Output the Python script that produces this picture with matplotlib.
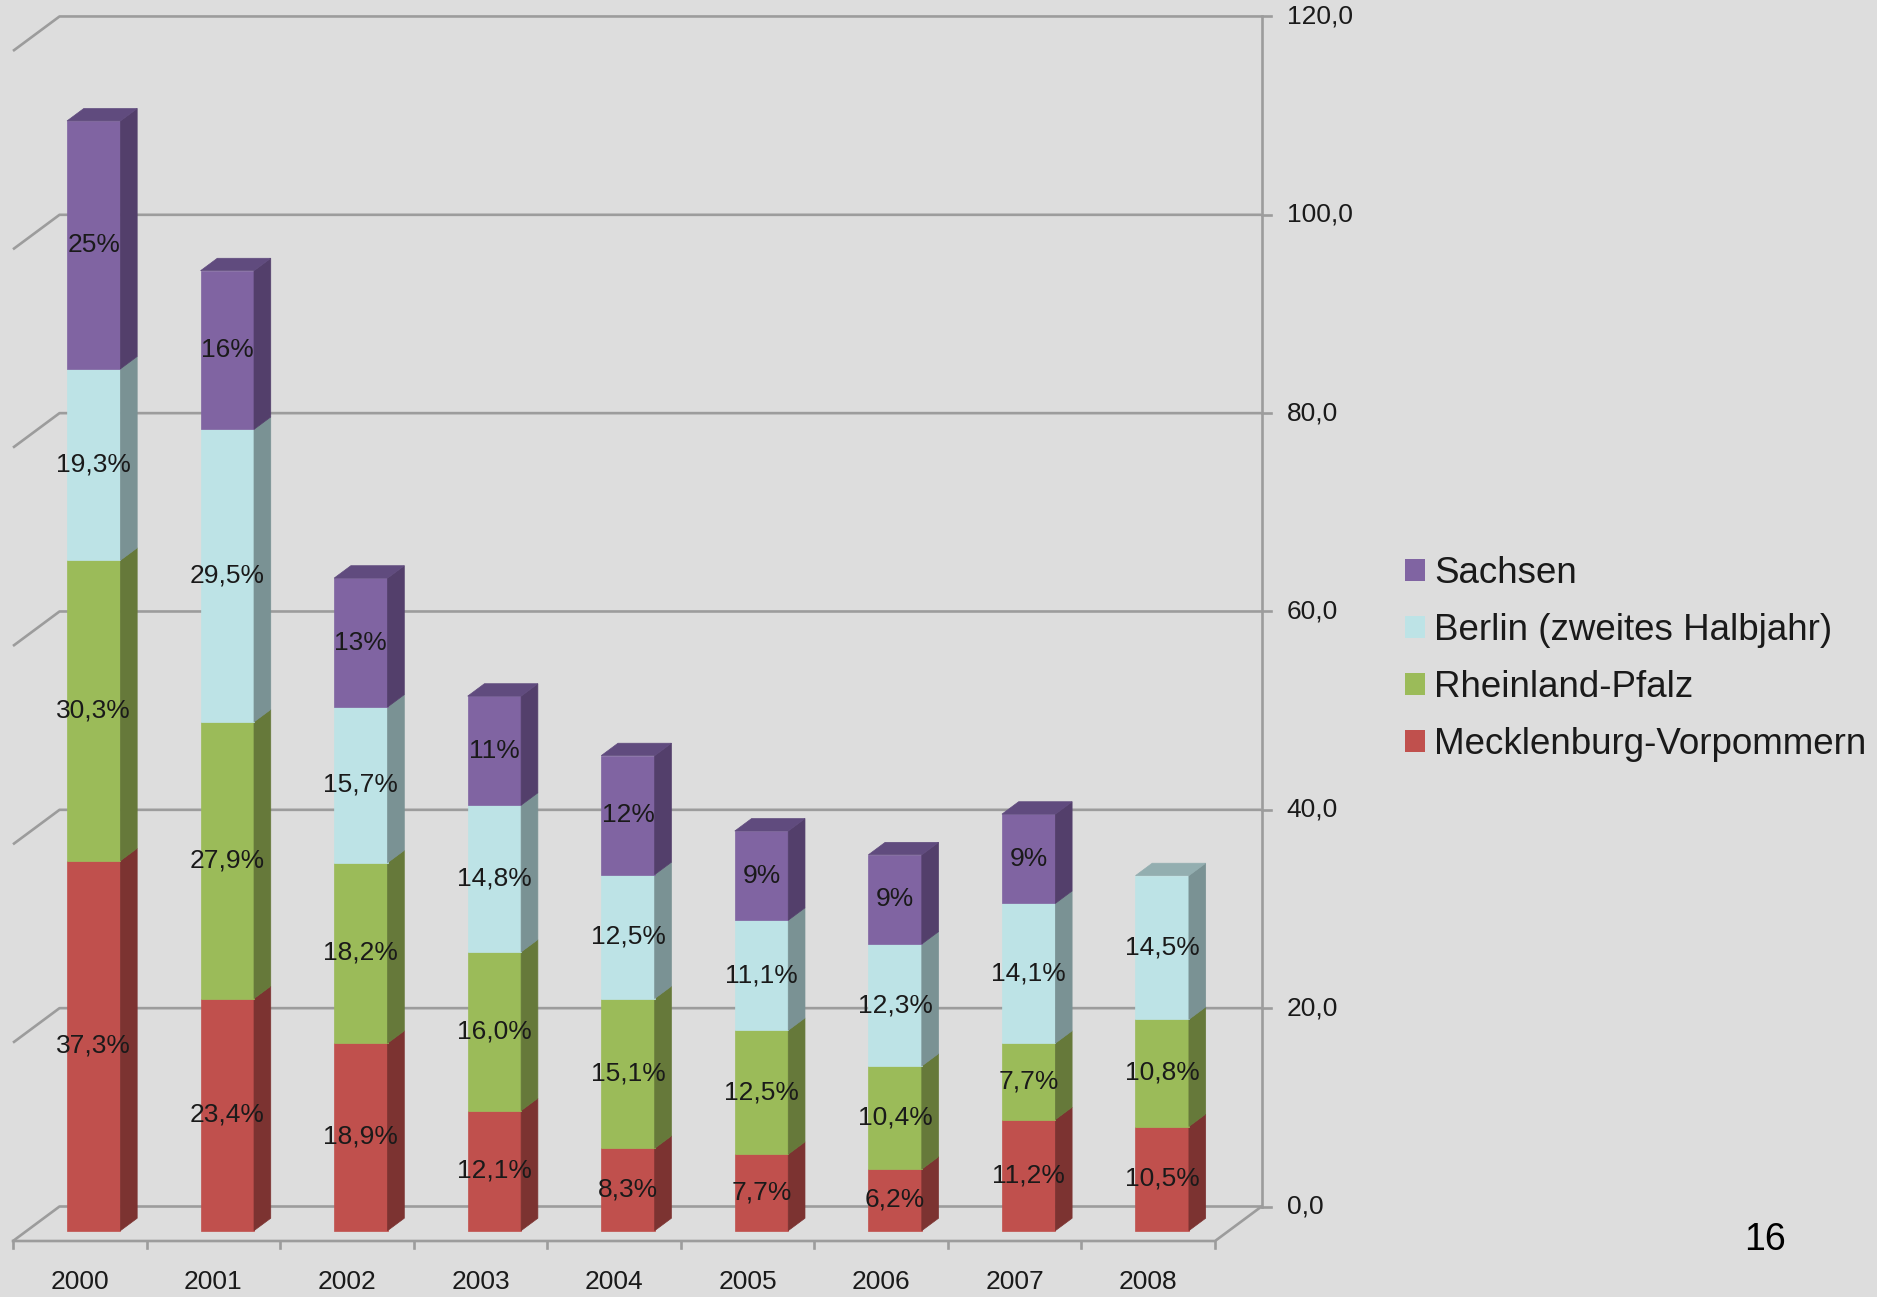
import numpy as np
import matplotlib
matplotlib.use('Agg')
import matplotlib.pyplot as plt
from matplotlib.patches import Polygon, Patch

# ---------------- data ----------------
years = ['2000', '2001', '2002', '2003', '2004', '2005', '2006', '2007', '2008']
series_names = ['Mecklenburg-Vorpommern', 'Rheinland-Pfalz',
                'Berlin (zweites Halbjahr)', 'Sachsen']
mecklenburg = [37.3, 23.4, 18.9, 12.1, 8.3, 7.7, 6.2, 11.2, 10.5]
rheinland = [30.3, 27.9, 18.2, 16.0, 15.1, 12.5, 10.4, 7.7, 10.8]
berlin = [19.3, 29.5, 15.7, 14.8, 12.5, 11.1, 12.3, 14.1, 14.5]
sachsen = [25, 16, 13, 11, 12, 9, 9, 9, np.nan]
label_decimals = [1, 1, 1, 0]
y_ticks = [0, 20, 40, 60, 80, 100, 120]
y_tick_labels = ['0,0', '20,0', '40,0', '60,0', '80,0', '100,0', '120,0']
page_number = '16'

# ---------------- style ----------------
BG = '#DDDDDD'
GRID = '#9C9C9C'
TXT = '#1A1A1A'
front_colors = ['#C0504D', '#9BBB59', '#BDE3E6', '#8064A2']
side_colors = ['#7C3331', '#66793A', '#7A9294', '#533F6B']
top_colors = ['#9E4240', '#7F9B48', '#93AEB0', '#604B7E']

plt.rcParams['font.family'] = ['Liberation Sans', 'DejaVu Sans']

W, H, DPI = 1877, 1297, 100
fig = plt.figure(figsize=(W / DPI, H / DPI), dpi=DPI, facecolor=BG)
ax = fig.add_axes([0, 0, 1, 1])
ax.set_axis_off()
ax.set_facecolor(BG)

# pixel geometry of the oblique projection
CAT_PX, VAL_PX = 133.56, 9.917
X0_PX, Y0_PX = 13, 1241
ax.set_xlim(-X0_PX / CAT_PX, (W - X0_PX) / CAT_PX)
ax.set_ylim(-(H - Y0_PX) / VAL_PX, Y0_PX / VAL_PX)
DX = 46.5 / CAT_PX
DY = 34.5 / VAL_PX
PT = 72.0 / DPI
FS = 19


def P(x, v, d):
    return (x + d * DX, v + d * DY)


n = len(years)
ymax = y_ticks[-1]
lw = 1.9

# back wall gridlines with left wall diagonals
for v in y_ticks:
    pts = [P(0, v, 0), P(0, v, 1), P(n, v, 1)]
    ax.plot([p[0] for p in pts], [p[1] for p in pts], color=GRID, lw=lw,
            zorder=1, solid_capstyle='butt')

# floor
pts = [P(0, 0, 0), P(n, 0, 0), P(n, 0, 1)]
ax.plot([p[0] for p in pts], [p[1] for p in pts], color=GRID, lw=lw, zorder=1)
for i in range(n + 1):
    a = P(i, 0, 0)
    ax.plot([a[0], a[0]], [a[1], a[1] - 7 / VAL_PX], color=GRID, lw=lw, zorder=1)

# right value axis
a, b = P(n, 0, 1), P(n, ymax, 1)
ax.plot([a[0], b[0]], [a[1], b[1]], color=GRID, lw=lw, zorder=1)
for v, lab in zip(y_ticks, y_tick_labels):
    a = P(n, v, 1)
    ax.plot([a[0], a[0] + 9 / CAT_PX], [a[1], a[1]], color=GRID, lw=lw, zorder=1)
    ax.annotate(lab, xy=a, xytext=(25 * PT, 0), textcoords='offset points',
                ha='left', va='center', fontsize=FS, color=TXT)

# bars
data = [mecklenburg, rheinland, berlin, sachsen]
x0, x1 = 0.3, 0.7
d0, d1 = 0.3, 0.66
for i in range(n):
    bottom = 0.0
    top_k = None
    for k, series in enumerate(data):
        v = series[i]
        if v is None or np.isnan(v):
            continue
        t = bottom + v
        front = [P(i + x0, bottom, d0), P(i + x1, bottom, d0),
                 P(i + x1, t, d0), P(i + x0, t, d0)]
        side = [P(i + x1, bottom, d0), P(i + x1, bottom, d1),
                P(i + x1, t, d1), P(i + x1, t, d0)]
        ax.add_patch(Polygon(front, closed=True, facecolor=front_colors[k],
                             edgecolor=front_colors[k], lw=0.5, zorder=3))
        ax.add_patch(Polygon(side, closed=True, facecolor=side_colors[k],
                             edgecolor=side_colors[k], lw=0.5, zorder=3))
        dec = label_decimals[k]
        lab = (f'{v:.{dec}f}'.replace('.', ',')) + '%'
        c = P(i + 0.5, bottom + v / 2, d0)
        ax.text(c[0], c[1], lab, ha='center', va='center', fontsize=FS,
                color=TXT, zorder=5)
        bottom = t
        top_k = k
    topface = [P(i + x0, bottom, d0), P(i + x1, bottom, d0),
               P(i + x1, bottom, d1), P(i + x0, bottom, d1)]
    ax.add_patch(Polygon(topface, closed=True, facecolor=top_colors[top_k],
                         edgecolor=top_colors[top_k], lw=0.5, zorder=3))

# category labels
for i, yr in enumerate(years):
    ax.annotate(yr, xy=(i + 0.5, 0), xytext=(0, -41 * PT),
                textcoords='offset points', ha='center', va='center',
                fontsize=FS, color=TXT)

# legend
handles = [Patch(facecolor=front_colors[k], edgecolor='none') for k in range(3, -1, -1)]
labels = [series_names[k] for k in range(3, -1, -1)]
fig.legend(handles, labels, loc='upper left',
           bbox_to_anchor=(1405 / W, 1 - 556 / H), frameon=False,
           fontsize=26.5, handlelength=0.55, handleheight=0.55,
           handletextpad=0.25, labelspacing=0.6, borderpad=0,
           borderaxespad=0, labelcolor=TXT)

fig.text(1765 / W, 1 - 1240 / H, page_number, ha='center', va='center',
         fontsize=27, color='black')

fig.savefig('out.png', dpi=DPI, facecolor=BG)
